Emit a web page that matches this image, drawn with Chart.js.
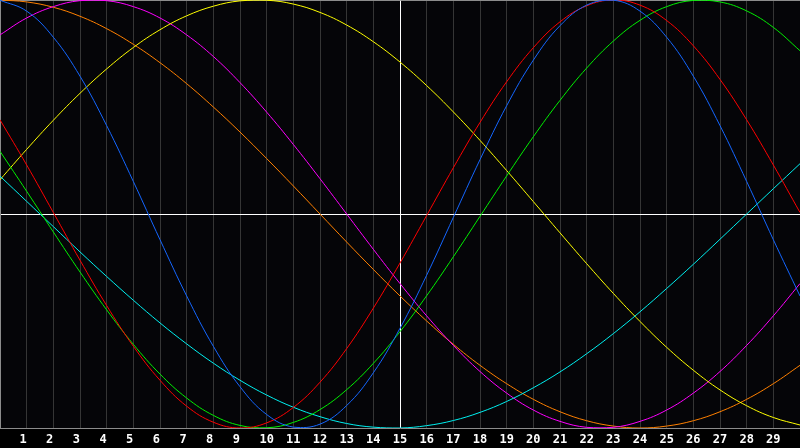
<!DOCTYPE html>
<html>
<head>
<meta charset="utf-8">
<script src="https://cdn.jsdelivr.net/npm/chart.js@4"></script>
<style>
html,body{margin:0;padding:0;background:#000;}
canvas{display:block;background:#000;}
</style>
</head>
<body>
<canvas id="c" width="800" height="448"></canvas>
<script>
const days = [0,1,2,3,4,5,6,7,8,9,10,11,12,13,14,15,16,17,18,19,20,21,22,23,24,25,26,27,28,29,30];
const dayLabels = ['1','2','3','4','5','6','7','8','9','10','11','12','13','14','15','16','17','18','19','20','21','22','23','24','25','26','27','28','29'];

const physical = [0.999,0.948,0.826,0.644,0.413,0.152,-0.120,-0.383,-0.618,-0.807,-0.937,-0.996,-0.982,-0.895,-0.742,-0.534,-0.286,-0.016,0.254,0.506,0.719,0.880,0.976,0.999,0.948,0.826,0.644,0.413,0.152,-0.120,-0.383];
const emotional = [0.440,0.229,0.007,-0.216,-0.428,-0.618,-0.777,-0.898,-0.973,-1.000,-0.976,-0.904,-0.786,-0.629,-0.440,-0.229,-0.007,0.216,0.428,0.618,0.777,0.898,0.973,1.000,0.976,0.904,0.786,0.629,0.440,0.229,0.007];
const intellectual = [0.293,0.106,-0.084,-0.271,-0.448,-0.609,-0.748,-0.860,-0.941,-0.988,-0.999,-0.974,-0.914,-0.821,-0.698,-0.550,-0.382,-0.200,-0.011,0.178,0.361,0.531,0.682,0.808,0.905,0.969,0.998,0.991,0.949,0.872,0.763];
const spiritual = [0.177,0.059,-0.059,-0.177,-0.292,-0.403,-0.509,-0.607,-0.697,-0.777,-0.846,-0.903,-0.947,-0.979,-0.996,-1.000,-0.989,-0.965,-0.927,-0.876,-0.812,-0.738,-0.653,-0.559,-0.457,-0.348,-0.235,-0.118,0.000,0.118,0.235];
const aesthetic = [0.160,0.302,0.438,0.564,0.678,0.778,0.861,0.926,0.971,0.996,0.999,0.981,0.942,0.883,0.805,0.710,0.600,0.477,0.344,0.203,0.058,-0.088,-0.232,-0.371,-0.502,-0.623,-0.730,-0.822,-0.896,-0.951,-0.986];
const intuitive = [0.837,0.916,0.969,0.997,0.997,0.969,0.916,0.837,0.736,0.614,0.476,0.325,0.165,0.000,-0.165,-0.325,-0.476,-0.614,-0.736,-0.837,-0.916,-0.969,-0.997,-0.997,-0.969,-0.916,-0.837,-0.736,-0.614,-0.476,-0.325];
const awareness = [1.000,0.991,0.966,0.924,0.866,0.793,0.707,0.609,0.500,0.383,0.259,0.131,0.000,-0.131,-0.259,-0.383,-0.500,-0.609,-0.707,-0.793,-0.866,-0.924,-0.966,-0.991,-1.000,-0.991,-0.966,-0.924,-0.866,-0.793,-0.707];

const seriesNames = ['Physical','Emotional','Intellectual','Spiritual','Aesthetic','Intuitive','Awareness'];
const seriesData = [physical, emotional, intellectual, spiritual, aesthetic, intuitive, awareness];
const seriesColors = ['#1466ff','#ff0000','#00f000','#00f0f0','#ffff00','#ff00ff','#ff8000'];

const datasets = seriesData.map((arr, i) => ({
  label: seriesNames[i],
  data: arr.map((v, k) => ({x: days[k], y: v})),
  borderColor: seriesColors[i],
  borderWidth: 1,
  pointRadius: 0,
  pointHoverRadius: 0,
  tension: 0.4,
  fill: false
}));

const areaBg = {
  id: 'areaBg',
  beforeDraw(chart) {
    const {ctx, chartArea: a} = chart;
    ctx.save();
    ctx.fillStyle = '#050508';
    ctx.fillRect(a.left, a.top, a.right - a.left, a.bottom - a.top);
    ctx.restore();
  }
};

new Chart(document.getElementById('c'), {
  type: 'line',
  data: { datasets },
  plugins: [areaBg],
  options: {
    responsive: false,
    animation: false,
    devicePixelRatio: 1,
    layout: { padding: 0, autoPadding: false },
    plugins: { legend: { display: false }, tooltip: { enabled: false } },
    scales: {
      x: {
        type: 'linear',
        min: 0, max: 30,
        afterFit(s) { s.height = 20; s.paddingLeft = 0; s.paddingRight = 0; },
        border: { display: true, color: '#8c8c8c', width: 1 },
        grid: {
          drawTicks: false,
          lineWidth: 1,
          color: (c) => c.tick.value === 15 ? '#ffffff' : ((c.tick.value === 0 || c.tick.value === 30) ? 'rgba(0,0,0,0)' : '#353535')
        },
        ticks: {
          stepSize: 1,
          autoSkip: false,
          maxRotation: 0,
          padding: 5,
          color: '#ffffff',
          font: { family: 'DejaVu Sans Mono', size: 12, weight: 'bold' },
          callback: (v) => (v >= 1 && v <= 29) ? dayLabels[v - 1].padEnd(2, ' ') : ''
        }
      },
      y: {
        min: -1, max: 1,
        afterFit(s) { s.width = 0; s.paddingTop = 0; s.paddingBottom = 0; },
        border: { display: true, color: '#8c8c8c', width: 1 },
        grid: {
          drawTicks: false,
          lineWidth: 1,
          color: (c) => c.tick.value === 0 ? '#ffffff' : (c.tick.value === 1 ? '#8c8c8c' : 'rgba(0,0,0,0)')
        },
        ticks: { display: false, stepSize: 0.5 }
      }
    }
  }
});
</script>
</body>
</html>
